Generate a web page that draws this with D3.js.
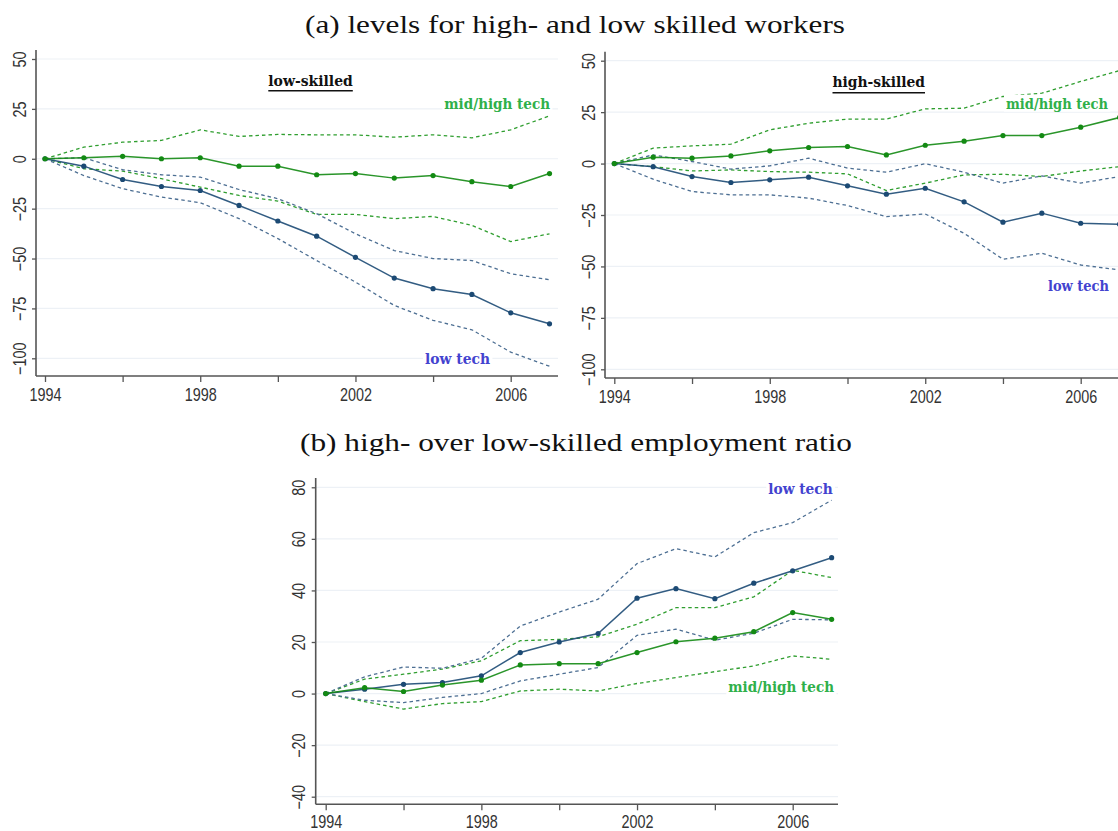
<!DOCTYPE html>
<html><head><meta charset="utf-8">
<script src="https://cdn.jsdelivr.net/npm/d3@7"></script>
<style>body{margin:0;background:#fff}svg{display:block}</style>
</head><body>
<svg id="c" width="1118" height="831"></svg>
<script>
const years = [1994,1995,1996,1997,1998,1999,2000,2001,2002,2003,2004,2005,2006,2007];
const xTicks = [1994,1996,1998,2000,2002,2004,2006];
const xLabels = [1994,1998,2002,2006];
const levelTicks = [50,25,0,-25,-50,-75,-100];
const ratioTicks = [80,60,40,20,0,-20,-40];

// (a) low-skilled
const lsMidMain = [0,0.5,1.2,0,0.5,-3.7,-3.7,-8,-7.4,-9.7,-8.4,-11.5,-13.9,-7.4];
const lsMidUp   = [0,5.8,8.3,9.2,14.5,11.2,12.2,12,12,10.8,12,10.5,14.5,21.5];
const lsMidLo   = [0,-5,-6.2,-10,-14.2,-18.4,-21.2,-27.9,-27.9,-30,-28.9,-33.4,-41.5,-37.6];
const lsLowMain = [0,-3.7,-10.4,-13.9,-15.9,-23.4,-31.2,-38.8,-49.4,-59.8,-65.1,-68,-77.2,-82.7];
const lsLowUp   = [0,0.5,-5.5,-8,-9.2,-15.4,-20,-27.5,-37.6,-46,-50,-51,-57.6,-60.6];
const lsLowLo   = [0,-8.4,-15,-19.2,-22,-30,-40,-51,-61.8,-73.5,-81,-85.7,-96.9,-104];
// (a) high-skilled
const hsMidMain = [0,3.1,2.6,3.7,6.2,7.8,8.3,4.2,8.9,10.9,13.6,13.6,17.7,22.4];
const hsMidUp   = [0,7.5,8.6,9.4,16.4,19.6,21.6,21.6,26.6,26.9,32.6,34.2,39.9,45.2];
const hsMidLo   = [0,-1.5,-3.6,-3.1,-3.9,-4.2,-5,-13.1,-9.5,-5.5,-5.2,-6.3,-3.6,-1.5];
const hsLowMain = [0,-1.5,-6.3,-9.2,-7.9,-6.6,-10.8,-14.9,-12,-18.6,-28.5,-24.1,-29,-29.5];
const hsLowUp   = [0,4.2,1,-2.7,-1.1,2.6,-2.2,-4.2,-0.1,-4.2,-9.5,-6,-9.5,-6.3];
const hsLowLo   = [0,-7.6,-13.6,-15.2,-15.2,-16.8,-20.4,-25.8,-24.5,-33.9,-46.5,-43.6,-49.3,-51.7];
// (b) ratio
const rMidMain = [0,2.3,0.8,3.3,5.2,11.1,11.6,11.6,15.9,20.1,21.5,24,31.4,28.8];
const rMidUp   = [0,5.6,7.5,9.5,12.7,20.5,21,22,26.9,33.3,33.3,37.5,47.8,45];
const rMidLo   = [0,-3.1,-6,-3.9,-3.1,1,1.7,1,3.9,6.2,8.5,10.7,14.6,13.3];
const rLowMain = [0,1.7,3.6,4.3,6.9,15.9,20,23.3,37,40.7,36.8,42.8,47.6,52.7];
const rLowUp   = [0,6.5,10.3,9.8,13.7,26.2,31.6,36.6,50.4,56.2,53,62.4,66.3,75];
const rLowLo   = [0,-2.6,-3.5,-1.5,0,4.9,7.5,10.1,22.6,25,20.7,23.4,28.8,28.6];

const C = {
  blue:"#1c4a74", blueDash:"#4d6f93", green:"#138a13", greenDash:"#2f9e2f",
  blueLbl:"#4343cf", greenLbl:"#2fb04a", grid:"#edf1f6", axis:"#555"
};

const svg = d3.select("#c");

function panel(o){
  const g = svg.append("g");
  const x = d3.scaleLinear().domain([1994,2006]).range([o.x1994, o.x2006]);
  const y = d3.scaleLinear().domain([o.ticks[o.ticks.length-1], o.ticks[0]]).range([o.yBot, o.yTop]);
  g.selectAll(".grid").data(o.ticks).join("line")
    .attr("x1", o.axX).attr("x2", o.right).attr("y1", d=>y(d)).attr("y2", d=>y(d))
    .attr("stroke", C.grid).attr("stroke-width",1.2);
  const ax = g.append("g").attr("transform",`translate(0,${o.axY})`)
    .call(d3.axisBottom(x).tickValues(xTicks).tickSize(6).tickSizeOuter(0)
      .tickFormat(d=> xLabels.includes(d) ? d : ""));
  ax.select(".domain").attr("d",`M${o.axX},0H${o.right}`).attr("stroke",C.axis).attr("stroke-width",1.6);
  ax.selectAll(".tick line").attr("stroke",C.axis).attr("stroke-width",1.3);
  ax.selectAll(".tick text").attr("y",o.labY).attr("dy",0).attr("fill","#333")
    .attr("font-family","Liberation Sans, Arial, sans-serif").attr("font-size",18)
    .attr("transform","scale(0.8,1)");
  const ay = g.append("g").attr("transform",`translate(${o.axX},0)`)
    .call(d3.axisLeft(y).tickValues(o.ticks).tickSize(4).tickSizeOuter(0));
  ay.select(".domain").attr("d",`M0,${o.axTop}V${o.axY}`).attr("stroke",C.axis).attr("stroke-width",1.6);
  ay.selectAll(".tick line").attr("stroke",C.axis).attr("stroke-width",1.3);
  ay.selectAll(".tick text").attr("x",0).attr("y",-10.5).attr("dy",0).attr("fill","#333")
    .attr("text-anchor","middle")
    .attr("font-family","Liberation Sans, Arial, sans-serif").attr("font-size",18)
    .attr("transform","rotate(-90) scale(0.8,1)");

  const line = d3.line().x((d,i)=>x(years[i])).y(d=>y(d));
  const dashed = [[o.midUp,C.greenDash],[o.midLo,C.greenDash],[o.lowUp,C.blueDash],[o.lowLo,C.blueDash]];
  dashed.forEach(([arr,col])=>{
    g.append("path").attr("d",line(arr)).attr("fill","none").attr("stroke",col)
      .attr("stroke-width",1.3).attr("stroke-dasharray","3.5,3");
  });
  [[o.lowMain,C.blue],[o.midMain,C.green]].forEach(([arr,col])=>{
    g.append("path").attr("d",line(arr)).attr("fill","none").attr("stroke",col)
      .attr("stroke-width",1.5).attr("stroke-opacity",0.9);
    g.selectAll(null).data(arr).join("circle")
      .attr("cx",(d,i)=>x(years[i])).attr("cy",d=>y(d)).attr("r",2.6).attr("fill",col);
  });
  o.labels.forEach(l=>{
    const t = g.append("text").attr("x",l.x).attr("y",l.y).text(l.text)
      .attr("font-family","DejaVu Serif, Liberation Serif, serif").attr("font-weight","bold")
      .attr("font-size",l.size||14.5).attr("fill",l.color)
      .attr("textLength",l.w).attr("lengthAdjust","spacingAndGlyphs");
    const b = t.node().getBBox();
    g.insert("rect", () => t.node()).attr("x",b.x-2).attr("y",b.y).attr("width",b.width+4).attr("height",b.height)
      .attr("fill","#fff");
    if(l.underline){
      g.append("line").attr("x1",l.x).attr("x2",l.x+l.w).attr("y1",l.uy).attr("y2",l.uy)
        .attr("stroke","#111").attr("stroke-width",1.5);
    }
  });
}

panel({x1994:45, x2006:510.7, axX:36, right:558, axY:376, axTop:50, labY:25.5,
  ticks:levelTicks, yTop:59, yBot:358.3,
  midMain:lsMidMain, midUp:lsMidUp, midLo:lsMidLo, lowMain:lsLowMain, lowUp:lsLowUp, lowLo:lsLowLo,
  labels:[
    {text:"low-skilled", x:268.3, y:85.5, w:84.5, color:"#111", underline:true, uy:90.7},
    {text:"mid/high tech", x:444.3, y:108.5, w:105.7, color:C.greenLbl},
    {text:"low tech", x:425, y:364, w:65, color:C.blueLbl}
  ]});

panel({x1994:614.3, x2006:1080.7, axX:605, right:1130, axY:378, axTop:51.7, labY:25.5,
  ticks:levelTicks, yTop:60.7, yBot:369.3,
  midMain:hsMidMain, midUp:hsMidUp, midLo:hsMidLo, lowMain:hsLowMain, lowUp:hsLowUp, lowLo:hsLowLo,
  labels:[
    {text:"high-skilled", x:832.5, y:86.5, w:92.5, color:"#111", underline:true, uy:92.7},
    {text:"mid/high tech", x:1006, y:108.7, w:102, color:C.greenLbl},
    {text:"low tech", x:1048, y:290.7, w:61, color:C.blueLbl}
  ]});

panel({x1994:325.7, x2006:792.7, axX:315.7, right:838, axY:804.3, axTop:478, labY:24,
  ticks:ratioTicks, yTop:487.3, yBot:796.7,
  midMain:rMidMain, midUp:rMidUp, midLo:rMidLo, lowMain:rLowMain, lowUp:rLowUp, lowLo:rLowLo,
  labels:[
    {text:"low tech", x:768.3, y:494, w:64.4, color:C.blueLbl},
    {text:"mid/high tech", x:728.3, y:692, w:105.7, color:C.greenLbl}
  ]});

[["(a) levels for high- and low skilled workers",575,33,540],
 ["(b) high- over low-skilled employment ratio",576,451,552]].forEach(([s,cx,by,w])=>{
  svg.append("text").attr("x",cx-w/2).attr("y",by).text(s)
    .attr("font-family","Liberation Serif, Times New Roman, serif").attr("font-size",26)
    .attr("fill","#111").attr("textLength",w).attr("lengthAdjust","spacingAndGlyphs");
});
</script>
</body></html>
